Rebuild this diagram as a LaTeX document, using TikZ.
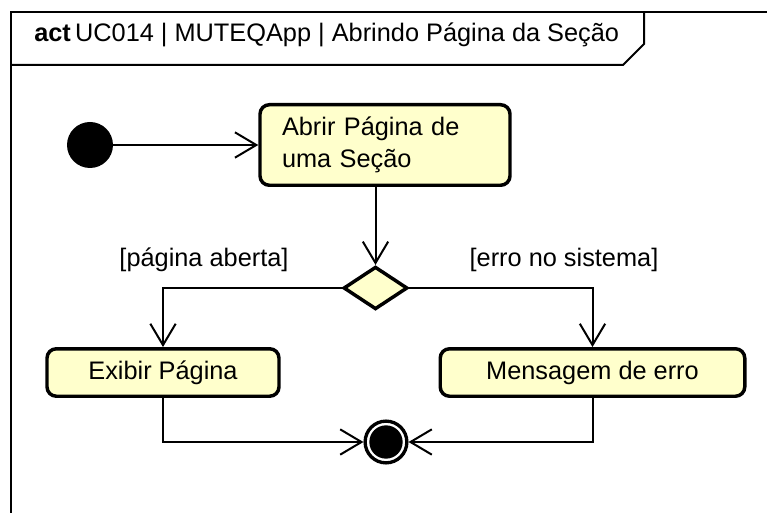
\documentclass[tikz,border=0pt]{standalone}
\usepackage{fontspec}
\setmainfont{Liberation Sans}
\usetikzlibrary{positioning,arrows.meta,shapes.geometric}
\definecolor{actfill}{RGB}{255,255,204}

\tikzset{
  action/.style={draw, line width=2.6pt, rounded corners=7pt, fill=actfill, inner sep=0pt},
  decision/.style={diamond, draw, line width=2.6pt, fill=actfill, inner sep=0pt},
  flow/.style={line width=1.5pt, -{Straight Barb[length=16pt,width=19pt,line width=1.5pt]}},
  frame/.style={line width=1.5pt},
}

\begin{document}
\begin{tikzpicture}[x=0.75pt, y=-0.75pt, font=\fontsize{19}{24}\selectfont]
  % Parameters (pixel grid)
  \def\fx{11}          % left edge of frame
  \def\fy{12}          % top edge of frame
  \def\hy{65}          % bottom of title tab
  \def\tx{644}         % right side of title tab

  \useasboundingbox (0,0) rectangle (767,513);

  % Frame and title tab
  \draw[frame] (\fx,513) -- (\fx,\fy) -- (767,\fy);
  \draw[frame] (\fx,\hy) -- ({\tx-21},\hy) -- (\tx,{\hy-21}) -- (\tx,\fy);
  \node[anchor=base west, inner sep=0pt] (title) at (34,42)
    {\textbf{act}\,UC014 | MUTEQApp | Abrindo Página da Seção};

  % Nodes
  \node[circle, fill=black, inner sep=0pt, minimum size=34.5pt] (start) at (90,145) {};
  \node[action, minimum width=187.5pt, minimum height=60.4pt,
        text width=154.5pt, align=left] (abrir) at (385,145) {Abrir Página de\\uma Seção};
  \node[decision, minimum width=48pt, minimum height=32pt] (dec) at (375.5,288) {};
  \node[action, minimum width=174pt, minimum height=35.6pt] (exibir) at (163,372.5) {Exibir Página};
  \node[action, minimum width=228.4pt, minimum height=35.6pt] (msg) at (592.5,372.5) {Mensagem de erro};
  \node[circle, draw, line width=2.5pt, fill=white, inner sep=0pt, minimum size=31.3pt,
        path picture={\fill[black] (path picture bounding box.center) circle (12.5pt);}] (final) at (386,442) {};

  % Guards
  \node (guardA) at (204,260) {[página aberta]};
  \node (guardB) at (564,260) {[erro no sistema]};

  % Flows
  \draw[flow] (start) -- (abrir);
  \draw[flow] (abrir.south -| dec.north) -- (dec.north);
  \draw[flow] (dec.west) -| (exibir.north);
  \draw[flow] (dec.east) -| (msg.north);
  \draw[flow] (exibir.south) |- (final.west);
  \draw[flow] (msg.south) |- (final.east);
\end{tikzpicture}
\end{document}
